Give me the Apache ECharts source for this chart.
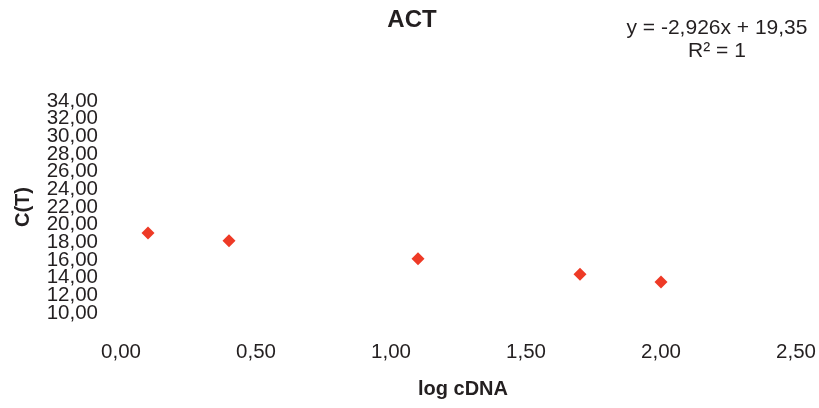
<!DOCTYPE html>
<html>
<head>
<meta charset="utf-8">
<title>ACT</title>
<script src="https://cdn.jsdelivr.net/npm/echarts@6/dist/echarts.min.js"></script>
<style>
  html, body { margin: 0; padding: 0; background: #ffffff; }
  #chart { width: 819px; height: 408px; }
</style>
</head>
<body>
<div id="chart"></div>
<script>
// Standard curve points: log of cDNA amount vs. threshold cycle
const logCdna = [0.1, 0.4, 1.1, 1.7, 2.0];
const ctValues = [19.06, 18.18, 16.13, 14.38, 13.50];

// Axis ranges and tick steps
const xAxisRange = [0, 2.5];
const xTickStep = 0.5;
const yLabelRange = [10, 34];   // labelled part of the C(T) axis
const yTickStep = 2;

// Texts
const chartTitle = 'ACT';
const xTitle = 'log cDNA';
const yTitle = 'C(T)';
const trendEquation = 'y = -2,926x + 19,35';
const trendR2 = 'R² = 1';

const FONT = '"Liberation Sans", Arial, sans-serif';
const TEXT = '#231f20';

const fmt = v => v.toFixed(2).replace('.', ',');

const chart = echarts.init(document.getElementById('chart'));
chart.setOption({
  animation: false,
  backgroundColor: '#ffffff',
  // the value axis runs one step past each labelled end so the stacked labels all stay visible
  grid: { left: 121, right: 23, top: 83.3, bottom: 77.3, containLabel: false },
  xAxis: {
    type: 'value',
    min: xAxisRange[0], max: xAxisRange[1], interval: xTickStep,
    axisLine: { show: false }, axisTick: { show: false }, splitLine: { show: false },
    axisLabel: { formatter: fmt, color: TEXT, fontFamily: FONT, fontSize: 20.5, margin: 11,
      showMinLabel: true, showMaxLabel: true, hideOverlap: false }
  },
  yAxis: {
    type: 'value',
    min: yLabelRange[0] - yTickStep, max: yLabelRange[1] + yTickStep, interval: yTickStep,
    axisLine: { show: false }, axisTick: { show: false }, splitLine: { show: false },
    axisLabel: {
      formatter: v => (v < yLabelRange[0] || v > yLabelRange[1]) ? '' : fmt(v),
      color: TEXT, fontFamily: FONT, fontSize: 20.5, lineHeight: 15,
      margin: 23, hideOverlap: false
    }
  },
  series: [{
    type: 'scatter',
    data: logCdna.map((x, i) => [x, ctValues[i]]),
    symbol: 'diamond',
    symbolSize: 13,
    itemStyle: { color: '#ee3a26', opacity: 1 }
  }],
  graphic: [
    { type: 'text', x: 412, y: 20, style: { text: chartTitle, fill: TEXT, font: 'bold 24px ' + FONT, textAlign: 'center', textVerticalAlign: 'middle' } },
    { type: 'text', x: 717, y: 28, style: { text: trendEquation, fill: TEXT, font: '21px ' + FONT, textAlign: 'center', textVerticalAlign: 'middle' } },
    { type: 'text', x: 717, y: 51, style: { text: trendR2, fill: TEXT, font: '21px ' + FONT, textAlign: 'center', textVerticalAlign: 'middle' } },
    { type: 'text', x: 463, y: 389, style: { text: xTitle, fill: TEXT, font: 'bold 20px ' + FONT, textAlign: 'center', textVerticalAlign: 'middle' } },
    { type: 'text', x: 23, y: 207, rotation: Math.PI / 2, style: { text: yTitle, fill: TEXT, font: 'bold 20px ' + FONT, textAlign: 'center', textVerticalAlign: 'middle' } }
  ]
});
</script>
</body>
</html>
